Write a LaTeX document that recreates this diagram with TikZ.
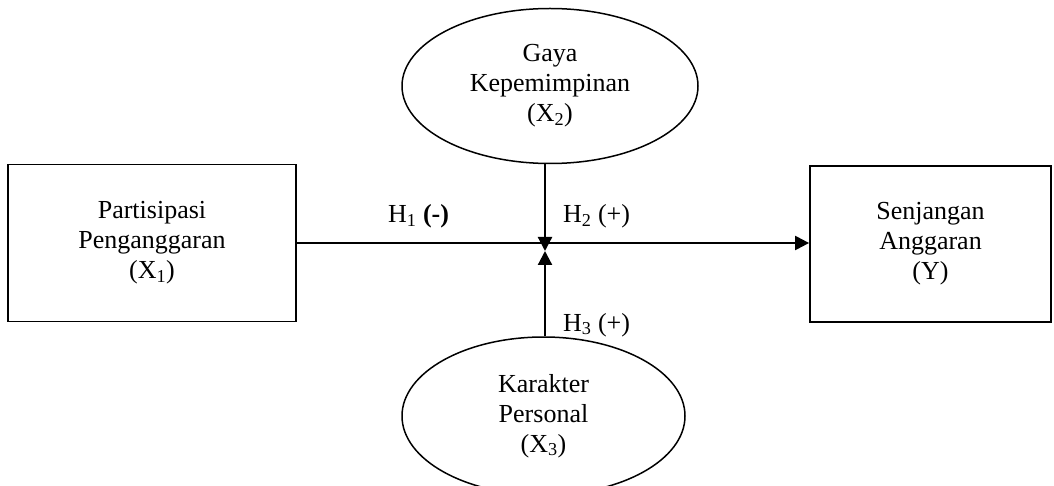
\documentclass[tikz,border=0pt]{standalone}
\usepackage{fontspec}
\setmainfont{Liberation Serif}
\usetikzlibrary{shapes.geometric,arrows.meta}
\begin{document}
\begin{tikzpicture}[x=1pt,y=-1pt,
  every node/.style={font=\fontsize{26}{30}\selectfont},
  varbox/.style={draw,line width=1.8pt,rectangle,align=center,inner sep=0pt},
  varell/.style={draw,line width=1.5pt,ellipse,align=center,inner sep=0pt},
  arr/.style={line width=2.2pt,-{Triangle[length=14pt,width=14pt]}},
  hlab/.style={anchor=base west,inner sep=0pt}]
\useasboundingbox (0,0) rectangle (1054,486);
\node[varbox,minimum width=288pt,minimum height=157pt] (x1) at (152,243)
  {Partisipasi\\Penganggaran\\(X\textsubscript{1})};
\node[varbox,minimum width=241pt,minimum height=156pt] (y) at (930.5,244)
  {Senjangan\\Anggaran\\(Y)};
\node[varell,minimum width=296pt,minimum height=155pt] (x2) at (550,86)
  {Gaya\\Kepemimpinan\\(X\textsubscript{2})};
\node[varell,minimum width=283pt,minimum height=158pt] (x3) at (543.5,416)
  {Karakter\\Personal\\(X\textsubscript{3})};
\coordinate (m) at (545,251);
\draw[arr] (x1.east) -- (x1.east -| y.west);
\draw[arr] (x2.south -| m) -- (m);
\draw[arr] (x3.north -| m) -- (m);
\node[hlab] (h1) at (388,223) {H\textsubscript{1} \textbf{(-)}};
\node[hlab] (h2) at (563,223) {H\textsubscript{2} (+)};
\node[hlab] (h3) at (563,331) {H\textsubscript{3} (+)};
\end{tikzpicture}
\end{document}
